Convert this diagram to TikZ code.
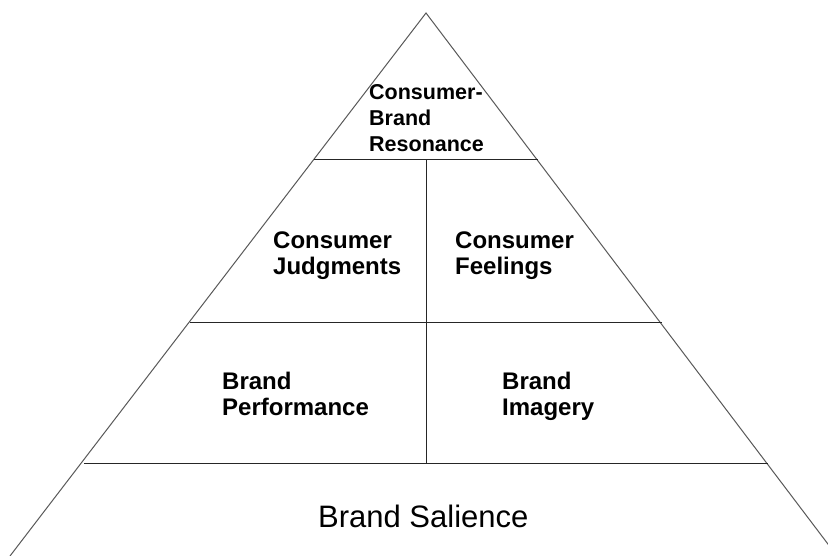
\documentclass[tikz,border=0pt]{standalone}
\usepackage{fontspec}
\setmainfont{Liberation Sans}
\begin{document}
\begin{tikzpicture}[x=1pt,y=-1pt,
  side/.style={draw=black!65, line width=1pt},
  rule/.style={draw=black!85, line width=1pt},
  lbl/.style={anchor=north west, inner sep=0pt, align=left, font=\bfseries\fontsize{24}{26.5}\selectfont},
  toplbl/.style={anchor=north west, inner sep=0pt, align=left, font=\bfseries\fontsize{21.5}{26}\selectfont}]
\useasboundingbox (0,0) rectangle (828,556);
\clip (0,0) rectangle (828,556);
\fill[white] (0,0) rectangle (828,556);
% outline
\coordinate (apex) at (426,13);
\coordinate (bl) at (10,556);
\coordinate (br) at (837,556);
\draw[side] (bl) -- (apex) -- (br);
% tiers
\coordinate (t1l) at (314,160);
\coordinate (t1r) at (538,160);
\coordinate (t2l) at (190,323);
\coordinate (t2r) at (662,323);
\coordinate (t3l) at (84,463);
\coordinate (t3r) at (768,463);
\coordinate (vtop) at (426,160);
\coordinate (vbot) at (426,463);
\draw[rule] (t1l) -- (t1r);
\draw[rule] (t2l) -- (t2r);
\draw[rule] (t3l) -- (t3r);
\draw[rule] (vtop) -- (vbot);
% labels
\node[toplbl] (res) at (369,84.5) {Consumer-\\Brand\\Resonance};
\node[lbl] (judg) at (273,231.5) {Consumer\\Judgments};
\node[lbl] (feel) at (455,231.5) {Consumer\\Feelings};
\node[lbl] (perf) at (222,371.5) {Brand\\Performance};
\node[lbl] (imag) at (502,371.5) {Brand\\Imagery};
\node[anchor=base west, inner sep=0pt, font=\fontsize{31}{36}\selectfont] (sal) at (318,527) {Brand Salience};
\end{tikzpicture}
\end{document}
